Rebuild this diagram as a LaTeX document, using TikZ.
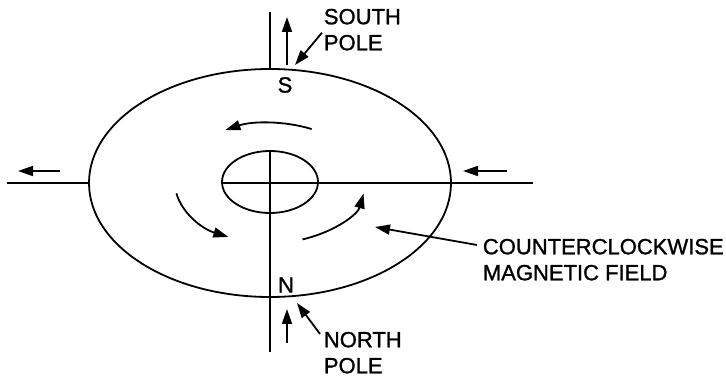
\documentclass[tikz,border=0pt]{standalone}
\usepackage{fontspec}
\setmainfont{Liberation Sans}[FakeBold=1.2]
\usetikzlibrary{arrows.meta,positioning}

\begin{document}
\begin{tikzpicture}[x=1pt,y=-1pt,line width=1.8pt,
 every node/.style={font=\fontsize{22}{26}\selectfont},
 lbl/.style={align=left,inner sep=0pt,anchor=north west},
 pole/.style={inner sep=0pt},
 arr/.style={-{Triangle[length=15pt,width=10pt]}}]
\useasboundingbox (0,0) rectangle (726,379);
% earth and core
\coordinate (c) at (270,183);
\draw (c) ellipse [x radius=181,y radius=114];
\draw (270,182) ellipse [x radius=48,y radius=31];
% axes
\coordinate (ntop) at (270,12);
\coordinate (nrim) at (270,70);
\coordinate (core) at (270,151);
\coordinate (nbot) at (270,352);
\coordinate (wend) at (7,183);
\coordinate (wrim) at (88,183);
\coordinate (corew) at (222,183);
\coordinate (eend) at (533,183);
\foreach \x/\y in {ntop/nrim,core/nbot,wend/wrim,corew/eend}{\draw(\x)--(\y);}
% field outside
\coordinate (w1) at (60,171);
\coordinate (w2) at (18,171);
\coordinate (e1) at (507,171);
\coordinate (e2) at (463,171);
\coordinate (s1) at (287,65);
\coordinate (s2) at (287,17);
\coordinate (n1) at (287,343);
\coordinate (n2) at (287,309);
\foreach \x/\y in {w1/w2,e1/e2,s1/s2,n1/n2}{\draw[arr](\x)--(\y);}
% circulation
\draw[arr] (c) ++(-64:95 and 60) arc[start angle=-64,end angle=-118,x radius=95,y radius=60];
\draw[arr] (c) ++(-190:95 and 60) arc[start angle=-190,end angle=-244,x radius=95,y radius=60];
\draw[arr] (c) ++(-290:95 and 60) arc[start angle=-290,end angle=-350,x radius=95,y radius=60];
% labels
\node[pole] (s) at (285,85) {S};
\node[pole] (n) at (286,285) {N};
\node[lbl] (spole) at (323,8) {SOUTH\\POLE};
\node[lbl] (npole) at (323,331) {NORTH\\POLE};
\node[lbl] (field) at (482,238) {COUNTERCLOCKWISE\\MAGNETIC FIELD};
\coordinate (stip) at (295,65);
\coordinate (ntip) at (297,303);
\coordinate (ftip) at (375,227);
\draw[arr] ([xshift=-1pt,yshift=-3pt]spole.west)--(stip);
\draw[arr] ([xshift=-3pt,yshift=-3pt]npole.north west)--(ntip);
\draw[arr] ([xshift=-5pt,yshift=-7pt]field.north west)--(ftip);
\end{tikzpicture}
\end{document}
